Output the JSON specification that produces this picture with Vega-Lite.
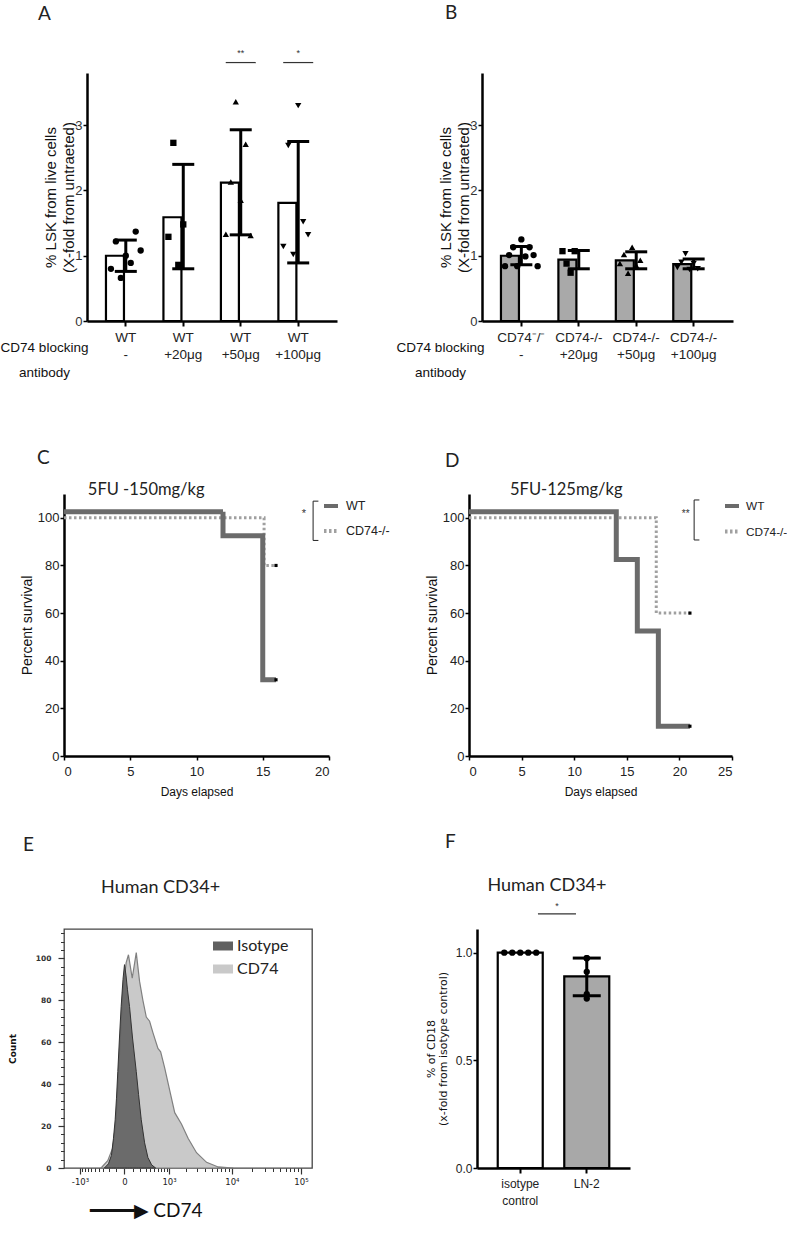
{
"$schema":"https://vega.github.io/schema/vega-lite/v6.json",
"background":"white",
"padding":{"left":0,"top":3,"right":0,"bottom":0},
"bounds":"flush",
"columns":2,
"spacing":{"row":173,"column":165},
"resolve":{"scale":{"color":"independent","strokeDash":"independent","shape":"independent","xOffset":"independent"},"legend":{"color":"independent","strokeDash":"independent"}},
"config":{
 "view":{"stroke":null},
 "font":"Liberation Sans",
 "axis":{"grid":false,"domainColor":"black","tickColor":"black","labelColor":"#222","titleColor":"#111","titleFontWeight":"normal","labelFont":"Liberation Sans","titleFont":"Liberation Sans"},
 "title":{"anchor":"start","frame":"group","font":"Lato","fontSize":19,"fontWeight":"normal","color":"#222","baseline":"alphabetic"}
},
"datasets":{
 "A_bars":[
  {"g":"WT|-","m":1.00,"lo":0.76,"hi":1.24},
  {"g":"WT|+20μg","m":1.59,"lo":0.80,"hi":2.40},
  {"g":"WT|+50μg","m":2.12,"lo":1.32,"hi":2.93},
  {"g":"WT|+100μg","m":1.81,"lo":0.89,"hi":2.75}],
 "A_pts":[
  {"g":"WT|-","r":1,"v":0.80},{"g":"WT|-","r":2,"v":1.22},{"g":"WT|-","r":3,"v":0.66},{"g":"WT|-","r":4,"v":1.00},{"g":"WT|-","r":5,"v":0.89},{"g":"WT|-","r":6,"v":1.37},{"g":"WT|-","r":7,"v":1.08},
  {"g":"WT|+20μg","r":1,"v":1.29},{"g":"WT|+20μg","r":2,"v":2.73},{"g":"WT|+20μg","r":3,"v":0.86},{"g":"WT|+20μg","r":4,"v":1.48},
  {"g":"WT|+50μg","r":1,"v":1.33},{"g":"WT|+50μg","r":2,"v":2.13},{"g":"WT|+50μg","r":3,"v":3.36},{"g":"WT|+50μg","r":4,"v":1.85},{"g":"WT|+50μg","r":5,"v":2.71},{"g":"WT|+50μg","r":6,"v":1.31},
  {"g":"WT|+100μg","r":1,"v":1.14},{"g":"WT|+100μg","r":2,"v":2.69},{"g":"WT|+100μg","r":3,"v":1.02},{"g":"WT|+100μg","r":4,"v":3.30},{"g":"WT|+100μg","r":5,"v":1.52},{"g":"WT|+100μg","r":6,"v":1.32}],
 "B_bars":[
  {"g":"CD74⁻/⁻|-","m":1.00,"lo":0.86,"hi":1.14},
  {"g":"CD74-/-|+20μg","m":0.94,"lo":0.80,"hi":1.08},
  {"g":"CD74-/-|+50μg","m":0.93,"lo":0.80,"hi":1.06},
  {"g":"CD74-/-|+100μg","m":0.87,"lo":0.80,"hi":0.95}],
 "B_pts":[
  {"g":"CD74⁻/⁻|-","r":1,"v":0.84},{"g":"CD74⁻/⁻|-","r":2,"v":1.01},{"g":"CD74⁻/⁻|-","r":3,"v":1.13},{"g":"CD74⁻/⁻|-","r":4,"v":0.84},{"g":"CD74⁻/⁻|-","r":5,"v":1.25},{"g":"CD74⁻/⁻|-","r":6,"v":0.99},{"g":"CD74⁻/⁻|-","r":7,"v":1.13},{"g":"CD74⁻/⁻|-","r":8,"v":1.01},{"g":"CD74⁻/⁻|-","r":9,"v":0.84},
  {"g":"CD74-/-|+20μg","r":1,"v":1.07},{"g":"CD74-/-|+20μg","r":2,"v":0.88},{"g":"CD74-/-|+20μg","r":3,"v":0.74},{"g":"CD74-/-|+20μg","r":4,"v":1.07},
  {"g":"CD74-/-|+50μg","r":1,"v":0.88},{"g":"CD74-/-|+50μg","r":2,"v":1.02},{"g":"CD74-/-|+50μg","r":3,"v":0.73},{"g":"CD74-/-|+50μg","r":4,"v":1.13},{"g":"CD74-/-|+50μg","r":5,"v":0.85},{"g":"CD74-/-|+50μg","r":6,"v":0.93},
  {"g":"CD74-/-|+100μg","r":1,"v":0.82},{"g":"CD74-/-|+100μg","r":2,"v":0.90},{"g":"CD74-/-|+100μg","r":3,"v":1.03},{"g":"CD74-/-|+100μg","r":4,"v":0.79},{"g":"CD74-/-|+100μg","r":5,"v":0.88},{"g":"CD74-/-|+100μg","r":6,"v":0.80}],
 "C":[
  {"s":"WT","d":0,"p":102.5},{"s":"WT","d":12,"p":92.5},{"s":"WT","d":15,"p":32},{"s":"WT","d":16,"p":32,"c":true},
  {"s":"CD74-/-","d":0,"p":100},{"s":"CD74-/-","d":15.1,"p":80},{"s":"CD74-/-","d":16,"p":80,"c":true}],
 "D":[
  {"s":"WT","d":0,"p":102.5},{"s":"WT","d":14,"p":82.5},{"s":"WT","d":16,"p":52.5},{"s":"WT","d":18,"p":12.5},{"s":"WT","d":21,"p":12.5,"c":true},
  {"s":"CD74-/-","d":0,"p":100},{"s":"CD74-/-","d":17.8,"p":60},{"s":"CD74-/-","d":21,"p":60,"c":true}],
 "E":[
  {"s":"Isotype","x":-282,"n":0},{"s":"Isotype","x":-209,"n":2},{"s":"Isotype","x":-161,"n":6},{"s":"Isotype","x":-132,"n":14},{"s":"Isotype","x":-108,"n":23},{"s":"Isotype","x":-91,"n":33},{"s":"Isotype","x":-74,"n":46},{"s":"Isotype","x":-54,"n":62},{"s":"Isotype","x":-35,"n":77},{"s":"Isotype","x":-15,"n":90},{"s":"Isotype","x":0,"n":97},{"s":"Isotype","x":15,"n":92},{"s":"Isotype","x":31,"n":85},{"s":"Isotype","x":54,"n":77},{"s":"Isotype","x":91,"n":62},{"s":"Isotype","x":142,"n":46},{"s":"Isotype","x":177,"n":35},{"s":"Isotype","x":221,"n":23},{"s":"Isotype","x":282,"n":12},{"s":"Isotype","x":349,"n":5},{"s":"Isotype","x":433,"n":1.5},{"s":"Isotype","x":536,"n":0},
  {"s":"CD74","x":-349,"n":0},{"s":"CD74","x":-221,"n":3.5},{"s":"CD74","x":-142,"n":9.6},{"s":"CD74","x":-95,"n":23},{"s":"CD74","x":-54,"n":54},{"s":"CD74","x":-17,"n":84},{"s":"CD74","x":17,"n":98},{"s":"CD74","x":42,"n":101.7},{"s":"CD74","x":87,"n":90.5},{"s":"CD74","x":142,"n":102.7},{"s":"CD74","x":193,"n":89},{"s":"CD74","x":250,"n":80},{"s":"CD74","x":315,"n":72},{"s":"CD74","x":386,"n":70},{"s":"CD74","x":465,"n":64.6},{"s":"CD74","x":603,"n":57},{"s":"CD74","x":687,"n":55.4},{"s":"CD74","x":827,"n":47.8},{"s":"CD74","x":1030,"n":37},{"s":"CD74","x":1269,"n":26.4},{"s":"CD74","x":1658,"n":21},{"s":"CD74","x":2136,"n":14.2},{"s":"CD74","x":2917,"n":7.3},{"s":"CD74","x":4179,"n":2.7},{"s":"CD74","x":6270,"n":0.5},{"s":"CD74","x":10491,"n":0}],
 "F_bars":[
  {"g":"isotype|control","m":1.0},
  {"g":"LN-2","m":0.89,"lo":0.80,"hi":0.975}],
 "F_pts":[
  {"g":"isotype|control","r":1,"v":1.0},{"g":"isotype|control","r":2,"v":1.0},{"g":"isotype|control","r":3,"v":1.0},{"g":"isotype|control","r":4,"v":1.0},{"g":"isotype|control","r":5,"v":1.0},
  {"g":"LN-2","r":1,"v":0.974},{"g":"LN-2","r":2,"v":0.911},{"g":"LN-2","r":3,"v":0.807},{"g":"LN-2","r":4,"v":0.787},{"g":"LN-2","r":5,"v":0.974}]
},
"concat":[
  {"title":{"text":"A","dx":-26,"offset":25.5},
   "width":253,"height":248,
   "layer":[
    {"data":{"name":"A_bars"},"mark":{"type":"bar","fill":"white","stroke":"black","strokeWidth":2.2},
     "encoding":{
      "x":{"field":"g","type":"nominal","sort":null,
       "scale":{"domain":["WT|-","WT|+20μg","WT|+50μg","WT|+100μg"],"range":[23,273],"paddingInner":0.31,"paddingOuter":0.33},
       "axis":{"title":["CD74 blocking","antibody"],"titleX":-20,"titleY":26,"titleAlign":"center","titleBaseline":"middle","titleFontSize":13.5,"titleLineHeight":25,
        "labelExpr":"split(datum.label,'|')","labelAngle":0,"labelFontSize":13.5,"labelLineHeight":17,"labelPadding":4,"labelOverlap":false,"labelBound":false,
        "tickSize":5,"tickWidth":2,"domainWidth":2.5}},
      "y":{"field":"m","type":"quantitative","scale":{"domain":[0,3.8],"nice":false},
       "axis":{"values":[0,1,2,3],"format":"d","offset":-23,"title":["% LSK from live cells","(X-fold from untraeted)"],"titleFontSize":15,"titleLineHeight":18,"titlePadding":-2,"labelFontSize":13,"labelColor":"#333","labelPadding":1,"tickSize":4,"tickWidth":1.5,"domainWidth":2.5}}}},
    {"data":{"name":"A_bars"},"mark":{"type":"rule","color":"black","strokeWidth":3},
     "encoding":{"x":{"field":"g","type":"nominal"},"y":{"field":"lo","type":"quantitative"},"y2":{"field":"hi"}}},
    {"data":{"name":"A_bars"},"mark":{"type":"tick","color":"black","size":22,"thickness":3,"opacity":1},
     "encoding":{"x":{"field":"g","type":"nominal"},"y":{"field":"lo","type":"quantitative"}}},
    {"data":{"name":"A_bars"},"mark":{"type":"tick","color":"black","size":22,"thickness":3,"opacity":1},
     "encoding":{"x":{"field":"g","type":"nominal"},"y":{"field":"hi","type":"quantitative"}}},
    {"data":{"name":"A_pts"},"mark":{"type":"point","filled":true,"size":40,"color":"black","opacity":1},
     "encoding":{"x":{"field":"g","type":"nominal"},"xOffset":{"field":"r","type":"ordinal","scale":{"paddingOuter":4.8}},
      "y":{"field":"v","type":"quantitative"},
      "shape":{"field":"g","type":"nominal","scale":{"domain":["WT|-","WT|+20μg","WT|+50μg","WT|+100μg"],"range":["circle","square","triangle-up","triangle-down"]},"legend":null}}},
    {"data":{"values":[{}]},"mark":{"type":"tick","color":"#333","size":30,"thickness":1.2,"opacity":1},
     "encoding":{"x":{"datum":"WT|+50μg","type":"nominal"},"y":{"datum":3.96,"type":"quantitative"}}},
    {"data":{"values":[{}]},"mark":{"type":"tick","color":"#333","size":30,"thickness":1.2,"opacity":1},
     "encoding":{"x":{"datum":"WT|+100μg","type":"nominal"},"y":{"datum":3.96,"type":"quantitative"}}},
    {"data":{"values":[{}]},"mark":{"type":"text","text":"**","fontSize":9,"color":"#333"},
     "encoding":{"x":{"datum":"WT|+50μg","type":"nominal"},"y":{"datum":4.1,"type":"quantitative"}}},
    {"data":{"values":[{}]},"mark":{"type":"text","text":"*","fontSize":9,"color":"#333"},
     "encoding":{"x":{"datum":"WT|+100μg","type":"nominal"},"y":{"datum":4.1,"type":"quantitative"}}}
   ]},
  {"title":{"text":"B","dx":-37,"offset":50.5},
   "width":251,"height":248,
   "layer":[
    {"data":{"name":"B_bars"},"mark":{"type":"bar","fill":"#a9a9a9","stroke":"black","strokeWidth":2.2},
     "encoding":{
      "x":{"field":"g","type":"nominal","sort":null,
       "scale":{"domain":["CD74⁻/⁻|-","CD74-/-|+20μg","CD74-/-|+50μg","CD74-/-|+100μg"],"paddingInner":0.29,"paddingOuter":0.33},
       "axis":{"title":["CD74 blocking","antibody"],"titleX":-42,"titleY":26,"titleAlign":"center","titleBaseline":"middle","titleFontSize":13.5,"titleLineHeight":25,
        "labelExpr":"split(datum.label,'|')","labelAngle":0,"labelFontSize":13.5,"labelLineHeight":17,"labelPadding":4,"labelOverlap":false,"labelBound":false,
        "tickSize":5,"tickWidth":2,"domainWidth":2.5}},
      "y":{"field":"m","type":"quantitative","scale":{"domain":[0,3.8],"nice":false},
       "axis":{"values":[0,1,2,3],"format":"d","title":["% LSK from live cells","(X-fold from untraeted)"],"titleFontSize":15,"titleLineHeight":18,"titlePadding":-2,"labelFontSize":13,"labelColor":"#333","labelPadding":1,"tickSize":4,"tickWidth":1.5,"domainWidth":2.5}}}},
    {"data":{"name":"B_bars"},"mark":{"type":"rule","color":"black","strokeWidth":3},
     "encoding":{"x":{"field":"g","type":"nominal"},"y":{"field":"lo","type":"quantitative"},"y2":{"field":"hi"}}},
    {"data":{"name":"B_bars"},"mark":{"type":"tick","color":"black","size":22,"thickness":3,"opacity":1},
     "encoding":{"x":{"field":"g","type":"nominal"},"y":{"field":"lo","type":"quantitative"}}},
    {"data":{"name":"B_bars"},"mark":{"type":"tick","color":"black","size":22,"thickness":3,"opacity":1},
     "encoding":{"x":{"field":"g","type":"nominal"},"y":{"field":"hi","type":"quantitative"}}},
    {"data":{"name":"B_pts"},"mark":{"type":"point","filled":true,"size":40,"color":"black","opacity":1},
     "encoding":{"x":{"field":"g","type":"nominal"},"xOffset":{"field":"r","type":"ordinal","scale":{"paddingOuter":3}},
      "y":{"field":"v","type":"quantitative"},
      "shape":{"field":"g","type":"nominal","scale":{"domain":["CD74⁻/⁻|-","CD74-/-|+20μg","CD74-/-|+50μg","CD74-/-|+100μg"],"range":["circle","square","triangle-up","triangle-down"]},"legend":null}}}
   ]},
  {"title":{"text":"C","dx":-27,"offset":14},
   "width":240,"height":262,
   "layer":[
    {"data":{"name":"C"},"transform":[{"filter":"datum.s=='CD74-/-'"}],
     "mark":{"type":"line","interpolate":"step-after","strokeWidth":3,"strokeCap":"butt"},
     "encoding":{
      "x":{"field":"d","type":"quantitative","scale":{"domain":[0,20],"range":[0,265],"nice":false},
       "axis":{"values":[0,5,10,15,20],"title":"Days elapsed","titleFontSize":12,"titlePadding":8,"labelFontSize":13,"labelPadding":5,"tickSize":4,"tickWidth":1.5,"domainWidth":2.5}},
      "y":{"field":"p","type":"quantitative","scale":{"domain":[0,110],"nice":false},
       "axis":{"values":[0,20,40,60,80,100],"title":"Percent survival","titleFontSize":14,"titlePadding":3,"labelFontSize":13,"labelPadding":1,"tickSize":4,"tickWidth":1.5,"domainWidth":2.5}},
      "color":{"field":"s","type":"nominal","scale":{"domain":["WT","CD74-/-"],"range":["#6b6b6b","#a0a0a0"]},
       "legend":{"orient":"none","legendX":258,"legendY":3,"title":null,"padding":0,"symbolType":"stroke","symbolSize":196,"symbolStrokeWidth":4,"labelFont":"Liberation Sans","labelFontSize":12.5,"labelColor":"#222","labelOffset":6,"rowPadding":8}},
      "strokeDash":{"field":"s","type":"nominal","scale":{"domain":["WT","CD74-/-"],"range":[[1,0],[2.5,2.5]]}}}},
    {"data":{"name":"C"},"transform":[{"filter":"datum.s=='WT'"}],
     "mark":{"type":"line","interpolate":"step-after","strokeWidth":5,"strokeCap":"butt"},
     "encoding":{"x":{"field":"d","type":"quantitative"},"y":{"field":"p","type":"quantitative"},"color":{"field":"s","type":"nominal"},"strokeDash":{"field":"s","type":"nominal"}}},
    {"data":{"name":"C"},"transform":[{"filter":"datum.c"}],
     "mark":{"type":"point","shape":"square","filled":true,"color":"black","size":10,"opacity":1},
     "encoding":{"x":{"field":"d","type":"quantitative"},"y":{"field":"p","type":"quantitative"}}},
    {"data":{"values":[{}]},"mark":{"type":"rule","color":"#222","strokeWidth":1},"encoding":{"x":{"datum":18.8},"y":{"datum":107},"y2":{"datum":90.5}}},
    {"data":{"values":[{}]},"mark":{"type":"rule","color":"#222","strokeWidth":1},"encoding":{"x":{"datum":18.8},"x2":{"datum":19.2},"y":{"datum":107}}},
    {"data":{"values":[{}]},"mark":{"type":"rule","color":"#222","strokeWidth":1},"encoding":{"x":{"datum":18.8},"x2":{"datum":19.2},"y":{"datum":90.5}}},
    {"data":{"values":[{}]},"mark":{"type":"text","text":"*","fontSize":11,"color":"#333"},"encoding":{"x":{"datum":18.1},"y":{"datum":101.5}}},
    {"data":{"values":[{}]},"mark":{"type":"text","text":"5FU -150mg/kg","align":"left","baseline":"alphabetic","font":"Lato","fontSize":16.5,"color":"#222"},
     "encoding":{"x":{"datum":1.8},"y":{"datum":109.5}}}
   ]},
  {"title":{"text":"D","dx":-37,"offset":11},
   "width":250,"height":262,
   "layer":[
    {"data":{"name":"D"},"transform":[{"filter":"datum.s=='CD74-/-'"}],
     "mark":{"type":"line","interpolate":"step-after","strokeWidth":3,"strokeCap":"butt"},
     "encoding":{
      "x":{"field":"d","type":"quantitative","scale":{"domain":[0,25],"range":[-13,250],"nice":false},
       "axis":{"values":[0,5,10,15,20,25],"title":"Days elapsed","titleFontSize":12,"titlePadding":8,"labelFontSize":13,"labelPadding":5,"tickSize":4,"tickWidth":1.5,"domainWidth":2.5}},
      "y":{"field":"p","type":"quantitative","scale":{"domain":[0,110],"nice":false},
       "axis":{"values":[0,20,40,60,80,100],"offset":13,"title":"Percent survival","titleFontSize":14,"titlePadding":3,"labelFontSize":13,"labelPadding":1,"tickSize":4,"tickWidth":1.5,"domainWidth":2.5}},
      "color":{"field":"s","type":"nominal","scale":{"domain":["WT","CD74-/-"],"range":["#6b6b6b","#a0a0a0"]},
       "legend":{"orient":"none","legendX":241,"legendY":3,"title":null,"padding":0,"symbolType":"stroke","symbolSize":196,"symbolStrokeWidth":4,"labelFont":"Liberation Sans","labelFontSize":11.8,"labelColor":"#222","labelOffset":5,"rowPadding":8.5}},
      "strokeDash":{"field":"s","type":"nominal","scale":{"domain":["WT","CD74-/-"],"range":[[1,0],[2.5,2.5]]}}}},
    {"data":{"name":"D"},"transform":[{"filter":"datum.s=='WT'"}],
     "mark":{"type":"line","interpolate":"step-after","strokeWidth":5,"strokeCap":"butt"},
     "encoding":{"x":{"field":"d","type":"quantitative"},"y":{"field":"p","type":"quantitative"},"color":{"field":"s","type":"nominal"},"strokeDash":{"field":"s","type":"nominal"}}},
    {"data":{"name":"D"},"transform":[{"filter":"datum.c"}],
     "mark":{"type":"point","shape":"square","filled":true,"color":"black","size":10,"opacity":1},
     "encoding":{"x":{"field":"d","type":"quantitative"},"y":{"field":"p","type":"quantitative"}}},
    {"data":{"values":[{}]},"mark":{"type":"rule","color":"#222","strokeWidth":1},"encoding":{"x":{"datum":21.4},"y":{"datum":107.5},"y2":{"datum":90.7}}},
    {"data":{"values":[{}]},"mark":{"type":"rule","color":"#222","strokeWidth":1},"encoding":{"x":{"datum":21.4},"x2":{"datum":21.9},"y":{"datum":107.5}}},
    {"data":{"values":[{}]},"mark":{"type":"rule","color":"#222","strokeWidth":1},"encoding":{"x":{"datum":21.4},"x2":{"datum":21.9},"y":{"datum":90.7}}},
    {"data":{"values":[{}]},"mark":{"type":"text","text":"**","fontSize":10,"color":"#333"},"encoding":{"x":{"datum":20.6},"y":{"datum":101.5}}},
    {"data":{"values":[{}]},"mark":{"type":"text","text":"5FU-125mg/kg","align":"left","baseline":"alphabetic","font":"Lato","fontSize":16.5,"color":"#222"},
     "encoding":{"x":{"datum":3.9},"y":{"datum":109.5}}}
   ]},
  {"title":{"text":"E","dx":-41,"offset":24},
   "width":248,"height":239,
   "view":{"stroke":"#444","strokeWidth":1.3},
   "layer":[
    {"data":{"name":"E"},"transform":[{"filter":"datum.s=='CD74'"}],
     "mark":{"type":"area","stroke":"#808080","strokeWidth":1.2,"opacity":1},
     "encoding":{
      "x":{"field":"x","type":"quantitative","scale":{"type":"symlog","constant":300,"domain":[-1900,144000],"nice":false},
       "axis":{"orient":"bottom","values":[-1000,0,1000,10000,100000],"labelExpr":"datum.value==0?'0':datum.value==-1000?'-10³':datum.value==1000?'10³':datum.value==10000?'10⁴':'10⁵'",
        "labelFont":"DejaVu Sans","labelFontSize":8.5,"labelColor":"#222","labelPadding":3,"labelFlush":false,"tickSize":6,"tickColor":"#333","tickWidth":1.2,"domain":false,
        "title":"━━━━▶ CD74","titleFont":"Lato","titleFontSize":19,"titleColor":"#111","titleAlign":"left","titleAnchor":"start","titleX":25,"titleY":48,"titleBaseline":"alphabetic"}},
      "y":{"field":"n","type":"quantitative","stack":null,"scale":{"domain":[0,114],"nice":false},
       "axis":{"orient":"left","values":[0,20,40,60,80,100],"labelFont":"DejaVu Sans","labelFontWeight":"bold","labelFontSize":7.5,"labelColor":"#333","labelPadding":7,"tickSize":6,"tickColor":"#333","tickWidth":1.2,"domain":false,
        "title":"Count","titleFont":"DejaVu Sans","titleFontWeight":"bold","titleFontSize":9,"titlePadding":18}},
      "color":{"field":"s","type":"nominal","scale":{"domain":["Isotype","CD74"],"range":["#606060","#c9c9c9"]},
       "legend":{"orient":"none","legendX":149,"legendY":7,"title":null,"padding":0,"symbolType":"M-1,-0.45H1V0.45H-1Z","symbolSize":400,"symbolStrokeWidth":0,"symbolOpacity":1,"labelFont":"Lato","labelFontSize":16,"labelColor":"#222","labelOffset":4,"rowPadding":5}}}},
    {"data":{"name":"E"},"transform":[{"filter":"datum.s=='Isotype'"}],
     "mark":{"type":"area","stroke":"#333","strokeWidth":1,"fillOpacity":0.9},
     "encoding":{
      "x":{"field":"x","type":"quantitative",
       "axis":{"orient":"bottom","values":[-900,-800,-700,-600,-500,-400,-300,-200,-100,100,200,300,400,500,600,700,800,900,2000,3000,4000,5000,6000,7000,8000,9000,20000,30000,40000,50000,60000,70000,80000,90000],"labels":false,"tickSize":3.5,"tickColor":"#333","tickWidth":1,"domain":false,"title":null}},
      "y":{"field":"n","type":"quantitative","stack":null,
       "axis":{"orient":"left","values":[4,8,12,16,24,28,32,36,44,48,52,56,64,68,72,76,84,88,92,96,104,108,112],"labels":false,"tickSize":3.5,"tickColor":"#333","tickWidth":1,"domain":false,"title":null}},
      "color":{"field":"s","type":"nominal"}}},
    {"data":{"values":[{}]},"mark":{"type":"text","text":"Human CD34+","align":"left","baseline":"alphabetic","font":"Lato","fontSize":18,"color":"#222"},
     "encoding":{"x":{"datum":-349,"axis":null},"y":{"datum":131,"axis":null}}}
   ],
   "resolve":{"axis":{"x":"independent","y":"independent"}}},
  {"title":{"text":"F","dx":-37,"offset":25},
   "width":148,"height":239,
   "layer":[
    {"layer":[
     {"data":{"name":"F_bars"},"transform":[{"filter":"datum.g=='isotype|control'"}],"mark":{"type":"bar","fill":"white","stroke":"black","strokeWidth":2.2,"width":45},
      "encoding":{
       "x":{"field":"g","type":"nominal","sort":null,"scale":{"domain":["isotype|control","LN-2"],"range":[-5,148],"paddingInner":0.32,"paddingOuter":0.31},
        "axis":{"title":null,"labelExpr":"split(datum.label,'|')","labelAngle":0,"labelFontSize":12,"labelLineHeight":17,"labelPadding":5,"labelOverlap":false,"labelBound":false,"tickSize":5,"tickWidth":2,"domainWidth":2.5}},
       "y":{"field":"m","type":"quantitative","scale":{"domain":[0,1.11],"nice":false},
        "axis":{"values":[0,0.5,1],"format":".1f","offset":5,"labelFontSize":12,"labelPadding":1,"tickSize":4,"tickWidth":1.5,"domainWidth":2.5,
         "title":["% of CD18","(x-fold from isotype control)"],"titleFont":"DejaVu Sans","titleFontSize":11,"titleLineHeight":12,"titlePadding":7}}}},
     {"data":{"name":"F_bars"},"transform":[{"filter":"datum.g=='LN-2'"}],"mark":{"type":"bar","fill":"#a8a8a8","stroke":"black","strokeWidth":2.2,"width":45},
      "encoding":{"x":{"field":"g","type":"nominal"},"y":{"field":"m","type":"quantitative"}}},
     {"data":{"name":"F_bars"},"transform":[{"filter":"isValid(datum.lo)"}],"mark":{"type":"rule","color":"black","strokeWidth":3},
      "encoding":{"x":{"field":"g","type":"nominal"},"y":{"field":"lo","type":"quantitative"},"y2":{"field":"hi"}}},
     {"data":{"name":"F_bars"},"transform":[{"filter":"isValid(datum.lo)"}],"mark":{"type":"tick","color":"black","size":28,"thickness":3,"opacity":1},
      "encoding":{"x":{"field":"g","type":"nominal"},"y":{"field":"lo","type":"quantitative"}}},
     {"data":{"name":"F_bars"},"transform":[{"filter":"isValid(datum.lo)"}],"mark":{"type":"tick","color":"black","size":28,"thickness":3,"opacity":1},
      "encoding":{"x":{"field":"g","type":"nominal"},"y":{"field":"hi","type":"quantitative"}}},
     {"data":{"name":"F_pts"},"transform":[{"filter":"datum.g=='isotype|control'"}],"mark":{"type":"circle","size":40,"color":"black","opacity":1},
      "encoding":{"x":{"field":"g","type":"nominal"},"xOffset":{"field":"r","type":"ordinal","scale":{"paddingOuter":0.83}},"y":{"field":"v","type":"quantitative"}}},
     {"data":{"name":"F_pts"},"transform":[{"filter":"datum.g=='LN-2'"}],"mark":{"type":"circle","size":40,"color":"black","opacity":1},
      "encoding":{"x":{"field":"g","type":"nominal"},"y":{"field":"v","type":"quantitative"}}}
    ]},
    {"data":{"values":[{}]},"mark":{"type":"rule","color":"#333","strokeWidth":1.2},
     "encoding":{"x":{"datum":0.378,"type":"quantitative","scale":{"domain":[0,1],"nice":false},"axis":null},"x2":{"datum":0.635},"y":{"datum":1.18,"type":"quantitative"}}},
    {"data":{"values":[{}]},"mark":{"type":"text","text":"*","fontSize":9,"color":"#333"},
     "encoding":{"x":{"datum":0.507,"type":"quantitative","scale":{"domain":[0,1],"nice":false},"axis":null},"y":{"datum":1.215,"type":"quantitative"}}},
    {"data":{"values":[{}]},"mark":{"type":"text","text":"Human CD34+","align":"center","baseline":"alphabetic","font":"Lato","fontSize":18,"color":"#222"},
     "encoding":{"x":{"datum":0.439,"type":"quantitative","scale":{"domain":[0,1],"nice":false},"axis":null},"y":{"datum":1.286,"type":"quantitative"}}}
   ],
   "resolve":{"scale":{"x":"independent"}}}
]
}
